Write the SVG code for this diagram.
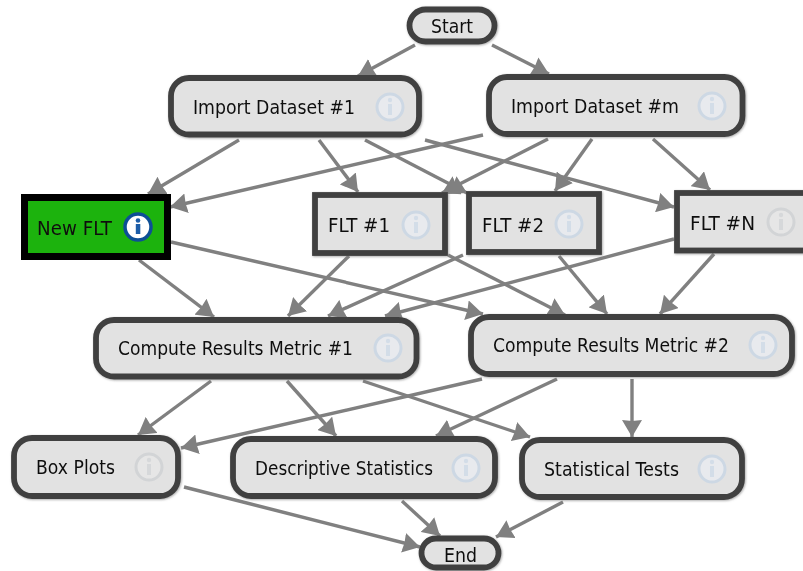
<svg xmlns="http://www.w3.org/2000/svg" width="803" height="571" viewBox="0 0 803 571">
<style>
.n{fill:#e2e2e2;stroke:#404040;stroke-width:5.8;filter:url(#s)}
.t{font-family:"DejaVu Sans","Noto Sans",sans-serif;font-size:19.500px;fill:#111}
.c line{stroke:#808080;stroke-width:3.4;marker-end:url(#a)}
</style>
<defs>
<filter id="s" x="-20%" y="-40%" width="140%" height="180%"><feDropShadow dx="0.800" dy="0.800" stdDeviation="0.800" flood-color="#808080" flood-opacity="0.700"/></filter>
<filter id="b" filterUnits="userSpaceOnUse" x="0" y="0" width="803" height="571"><feGaussianBlur stdDeviation="0.350"/></filter>
<marker id="a" viewBox="0 0 17 20" refX="17" refY="10" markerWidth="17" markerHeight="20" markerUnits="userSpaceOnUse" orient="auto"><path d="M0 0L17 10L0 20L1 10Z" fill="#808080"/></marker>
<g id="i"><circle r="13" fill="#e8eaee" stroke="#cdd8e4" stroke-width="3"/><circle cy="-7" r="2.200" fill="#d3dde8"/><rect x="-2" y="-3" width="4" height="11" fill="#d3dde8"/></g>
<g id="g"><circle r="13" fill="#e6e6e6" stroke="#d2d4d6" stroke-width="3"/><circle cy="-7" r="2.200" fill="#d6d8da"/><rect x="-2" y="-3" width="4" height="11" fill="#d6d8da"/></g>
</defs>
<rect width="803" height="571" fill="#fff"/>
<g filter="url(#b)">
<g class="c" id="connectors">
<line x1="415" y1="45" x2="358" y2="76"/>
<line x1="492" y1="45" x2="549" y2="74"/>
<line x1="239" y1="140" x2="148" y2="194"/>
<line x1="319" y1="140" x2="358" y2="192"/>
<line x1="365" y1="140" x2="467" y2="193"/>
<line x1="425" y1="140" x2="674" y2="207"/>
<line x1="483" y1="135" x2="170" y2="207"/>
<line x1="548" y1="139" x2="442" y2="193"/>
<line x1="592" y1="139" x2="555" y2="191"/>
<line x1="653" y1="139" x2="710" y2="190"/>
<line x1="139" y1="260" x2="214" y2="317"/>
<line x1="171" y1="242" x2="483" y2="314"/>
<line x1="349" y1="256" x2="288" y2="316"/>
<line x1="448" y1="255" x2="565" y2="315"/>
<line x1="463" y1="255" x2="328" y2="316"/>
<line x1="559" y1="256" x2="607" y2="314"/>
<line x1="674" y1="239" x2="385" y2="316"/>
<line x1="714" y1="254" x2="660" y2="314"/>
<line x1="211" y1="381" x2="138" y2="435"/>
<line x1="287" y1="381" x2="336" y2="436"/>
<line x1="363" y1="381" x2="530" y2="437"/>
<line x1="482" y1="379" x2="181" y2="448"/>
<line x1="557" y1="379" x2="436" y2="436"/>
<line x1="632" y1="379" x2="632" y2="437"/>
<line x1="184" y1="487" x2="420" y2="547"/>
<line x1="402" y1="501" x2="440" y2="536"/>
<line x1="563" y1="502" x2="496" y2="537"/>
</g>
<g id="start"><rect class="n" x="409.500" y="9.500" width="85" height="32" rx="16"/><text class="t" x="431" y="33" textLength="42" lengthAdjust="spacingAndGlyphs">Start</text></g>
<g id="import1"><rect class="n" x="171" y="78" width="248" height="56.500" rx="18"/><text class="t" x="193" y="114" textLength="162" lengthAdjust="spacingAndGlyphs">Import Dataset #1</text><use href="#i" x="390" y="107"/></g>
<g id="importm"><rect class="n" x="489" y="77" width="253.500" height="57" rx="18"/><text class="t" x="511" y="113" textLength="168" lengthAdjust="spacingAndGlyphs">Import Dataset #m</text><use href="#i" x="712" y="106"/></g>
<g id="newflt"><rect x="24.500" y="197.500" width="143" height="59" fill="#1fb30a" stroke="#000" stroke-width="7"/><text class="t" x="37" y="235" textLength="75" lengthAdjust="spacingAndGlyphs">New FLT</text><circle cx="138" cy="227" r="13" fill="#fff" stroke="#0f4f96" stroke-width="3.500"/><circle cx="138" cy="220.500" r="2.300" fill="#1c5da8"/><rect x="135.800" y="224" width="4.500" height="10" fill="#1c5da8"/></g>
<g id="flt1"><rect x="315" y="195" width="130" height="58" class="n"/><text class="t" x="328" y="232" textLength="62" lengthAdjust="spacingAndGlyphs">FLT #1</text><use href="#i" x="416" y="225"/></g>
<g id="flt2"><rect x="469" y="194" width="130" height="58" class="n"/><text class="t" x="482" y="232" textLength="62" lengthAdjust="spacingAndGlyphs">FLT #2</text><use href="#i" x="569" y="224"/></g>
<g id="fltn"><rect x="677" y="193" width="132" height="57.500" class="n"/><text class="t" x="690" y="230" textLength="65" lengthAdjust="spacingAndGlyphs">FLT #N</text><use href="#g" x="781" y="222"/></g>
<g id="compute1"><rect class="n" x="96" y="320" width="320.500" height="56.500" rx="18"/><text class="t" x="118" y="355" textLength="235" lengthAdjust="spacingAndGlyphs">Compute Results Metric #1</text><use href="#i" x="388" y="348"/></g>
<g id="compute2"><rect class="n" x="471" y="317" width="321" height="57" rx="18"/><text class="t" x="493" y="352" textLength="236" lengthAdjust="spacingAndGlyphs">Compute Results Metric #2</text><use href="#i" x="763" y="345"/></g>
<g id="boxplots"><rect class="n" x="14" y="438" width="164" height="58" rx="18"/><text class="t" x="36" y="474" textLength="79" lengthAdjust="spacingAndGlyphs">Box Plots</text><use href="#g" x="149" y="467"/></g>
<g id="descriptive"><rect class="n" x="233" y="439" width="262" height="57" rx="18"/><text class="t" x="255" y="475" textLength="178" lengthAdjust="spacingAndGlyphs">Descriptive Statistics</text><use href="#i" x="466" y="468"/></g>
<g id="stat"><rect class="n" x="522" y="440" width="220" height="57" rx="18"/><text class="t" x="544" y="476" textLength="135" lengthAdjust="spacingAndGlyphs">Statistical Tests</text><use href="#i" x="712" y="469"/></g>
<g id="end"><rect class="n" x="421.500" y="538.500" width="77" height="29" rx="14.500"/><text class="t" x="444" y="562" textLength="33" lengthAdjust="spacingAndGlyphs">End</text></g>
</g>
</svg>
